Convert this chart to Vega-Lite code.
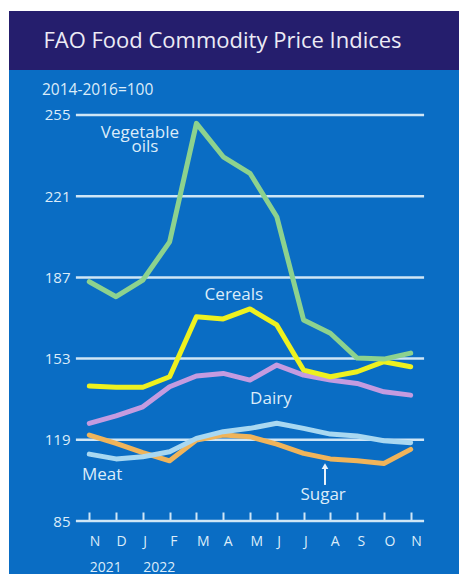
{
  "$schema": "https://vega.github.io/schema/vega-lite/v6.json",
  "background": "white",
  "padding": {"left": 9, "top": 11, "right": 0, "bottom": 0},
  "config": {
    "view": {"stroke": null},
    "font": "Open Sans"
  },
  "columns": 1,
  "spacing": 0,
  "concat": [
    {
      "width": 450,
      "height": 59,
      "view": {"fill": "#251e6d", "stroke": null},
      "data": {"values": [{"heading": "FAO Food Commodity Price Indices"}]},
      "mark": {"type": "text", "font": "Open Sans", "fontSize": 22, "color": "#ecebf5", "baseline": "alphabetic", "align": "center", "dx": -11.5, "dy": 7.5},
      "encoding": {"text": {"field": "heading"}}
    },
    {
      "width": 450,
      "height": 504,
      "view": {"fill": "#0a6dc4", "stroke": null},
      "encoding": {
        "y": {
          "field": "index", "type": "quantitative",
          "scale": {"domain": [62.81, 273.84], "nice": false, "zero": false},
          "axis": {
            "title": null, "values": [85,119,153,187,221,255],
            "grid": false, "domain": false, "ticks": false, "offset": -67,
            "labelPadding": 6, "labelFontSize": 15,
            "labelColor": "#dcecf9", "labelFont": "Open Sans"
          }
        }
      },
      "layer": [
        {
          "data": {"values": [
            {"index": 85}, {"index": 119}, {"index": 153}, {"index": 187}, {"index": 221}, {"index": 255}
          ]},
          "mark": {"type": "rule", "strokeWidth": 2.5, "color": "#cfe6f6"},
          "encoding": {
            "x": {
              "datum": -0.5, "type": "quantitative",
              "scale": {"domain": [-2.998, 13.804], "nice": false, "zero": false},
              "axis": {
                "title": null, "values": [0,1,2,3,4,5,6,7,8,9,10,11,12], "grid": false,
                "domain": false, "offset": -53,
                "ticks": true, "tickColor": "#cfe6f6", "tickSize": -9, "tickWidth": 2,
                "labelExpr": "[['N','2021'],'D',['J','2022'],'F','M','A','M','J','J','A','S','O','N'][datum.value]",
                "labelAlign": "left", "labelDx": -5, "labelFontSize": 14, "labelColor": "#dcecf9",
                "labelPadding": 22, "labelLineHeight": 26, "labelBaseline": "top",
                "labelFlush": false, "labelOverlap": false, "labelFont": "Open Sans"
              }
            },
            "x2": {"datum": 12.5}
          }
        },
        {
          "data": {"values": [
            {"series": "Sugar", "month": 0, "index": 121.0},
            {"series": "Sugar", "month": 1, "index": 117.5},
            {"series": "Sugar", "month": 2, "index": 113.6},
            {"series": "Sugar", "month": 3, "index": 110.2},
            {"series": "Sugar", "month": 4, "index": 118.9},
            {"series": "Sugar", "month": 5, "index": 121.0},
            {"series": "Sugar", "month": 6, "index": 120.3},
            {"series": "Sugar", "month": 7, "index": 117.2},
            {"series": "Sugar", "month": 8, "index": 113.3},
            {"series": "Sugar", "month": 9, "index": 111.0},
            {"series": "Sugar", "month": 10, "index": 110.2},
            {"series": "Sugar", "month": 11, "index": 109.1},
            {"series": "Sugar", "month": 12, "index": 115.0},
            {"series": "Meat", "month": 0, "index": 113.0},
            {"series": "Meat", "month": 1, "index": 111.0},
            {"series": "Meat", "month": 2, "index": 111.9},
            {"series": "Meat", "month": 3, "index": 114.0},
            {"series": "Meat", "month": 4, "index": 119.6},
            {"series": "Meat", "month": 5, "index": 122.4},
            {"series": "Meat", "month": 6, "index": 123.8},
            {"series": "Meat", "month": 7, "index": 125.9},
            {"series": "Meat", "month": 8, "index": 123.8},
            {"series": "Meat", "month": 9, "index": 121.4},
            {"series": "Meat", "month": 10, "index": 120.6},
            {"series": "Meat", "month": 11, "index": 118.6},
            {"series": "Meat", "month": 12, "index": 117.8},
            {"series": "Dairy", "month": 0, "index": 125.9},
            {"series": "Dairy", "month": 1, "index": 129.0},
            {"series": "Dairy", "month": 2, "index": 132.8},
            {"series": "Dairy", "month": 3, "index": 141.2},
            {"series": "Dairy", "month": 4, "index": 145.7},
            {"series": "Dairy", "month": 5, "index": 146.8},
            {"series": "Dairy", "month": 6, "index": 144.0},
            {"series": "Dairy", "month": 7, "index": 150.3},
            {"series": "Dairy", "month": 8, "index": 146.1},
            {"series": "Dairy", "month": 9, "index": 144.0},
            {"series": "Dairy", "month": 10, "index": 142.6},
            {"series": "Dairy", "month": 11, "index": 139.1},
            {"series": "Dairy", "month": 12, "index": 137.7},
            {"series": "Cereals", "month": 0, "index": 141.5},
            {"series": "Cereals", "month": 1, "index": 141.0},
            {"series": "Cereals", "month": 2, "index": 141.0},
            {"series": "Cereals", "month": 3, "index": 145.4},
            {"series": "Cereals", "month": 4, "index": 170.5},
            {"series": "Cereals", "month": 5, "index": 169.6},
            {"series": "Cereals", "month": 6, "index": 173.8},
            {"series": "Cereals", "month": 7, "index": 167.1},
            {"series": "Cereals", "month": 8, "index": 148.2},
            {"series": "Cereals", "month": 9, "index": 145.4},
            {"series": "Cereals", "month": 10, "index": 147.5},
            {"series": "Cereals", "month": 11, "index": 151.7},
            {"series": "Cereals", "month": 12, "index": 149.6},
            {"series": "Vegetable oils", "month": 0, "index": 185.2},
            {"series": "Vegetable oils", "month": 1, "index": 178.9},
            {"series": "Vegetable oils", "month": 2, "index": 185.9},
            {"series": "Vegetable oils", "month": 3, "index": 201.9},
            {"series": "Vegetable oils", "month": 4, "index": 251.5},
            {"series": "Vegetable oils", "month": 5, "index": 237.5},
            {"series": "Vegetable oils", "month": 6, "index": 230.6},
            {"series": "Vegetable oils", "month": 7, "index": 212.4},
            {"series": "Vegetable oils", "month": 8, "index": 169.2},
            {"series": "Vegetable oils", "month": 9, "index": 163.6},
            {"series": "Vegetable oils", "month": 10, "index": 153.2},
            {"series": "Vegetable oils", "month": 11, "index": 152.8},
            {"series": "Vegetable oils", "month": 12, "index": 155.3}
          ]},
          "mark": {"type": "line", "strokeWidth": 5, "strokeJoin": "round", "strokeCap": "round"},
          "encoding": {
            "x": {
              "field": "month", "type": "quantitative",
              "scale": {"domain": [-2.998, 13.804], "nice": false, "zero": false},
              "axis": {
                "title": null, "values": [0,1,2,3,4,5,6,7,8,9,10,11,12], "grid": false,
                "domain": false, "offset": -53,
                "ticks": true, "tickColor": "#cfe6f6", "tickSize": -9, "tickWidth": 2,
                "labelExpr": "[['N','2021'],'D',['J','2022'],'F','M','A','M','J','J','A','S','O','N'][datum.value]",
                "labelAlign": "left", "labelDx": -5, "labelFontSize": 14, "labelColor": "#dcecf9",
                "labelPadding": 22, "labelLineHeight": 26, "labelBaseline": "top",
                "labelFlush": false, "labelOverlap": false, "labelFont": "Open Sans"
              }
            },
            "color": {
              "field": "series", "type": "nominal",
              "scale": {
                "domain": ["Vegetable oils", "Cereals", "Dairy", "Meat", "Sugar"],
                "range": ["#8dd28e", "#eef11f", "#c49be0", "#a9d8f1", "#f0b45a"]
              },
              "legend": null
            }
          }
        },
        {
          "data": {"values": [
            {"label": "Vegetable", "month": 1.89, "index": 245.4},
            {"label": "oils", "month": 2.08, "index": 239.5},
            {"label": "Cereals", "month": 5.4, "index": 177.5},
            {"label": "Dairy", "month": 6.78, "index": 134.0},
            {"label": "Meat", "month": 0.48, "index": 102.2},
            {"label": "Sugar", "month": 8.73, "index": 93.8}
          ]},
          "mark": {"type": "text", "font": "Open Sans", "fontSize": 17, "color": "#dcecf9", "baseline": "alphabetic", "align": "center"},
          "encoding": {
            "x": {
              "field": "month", "type": "quantitative",
              "scale": {"domain": [-2.998, 13.804], "nice": false, "zero": false},
              "axis": {
                "title": null, "values": [0,1,2,3,4,5,6,7,8,9,10,11,12], "grid": false,
                "domain": false, "offset": -53,
                "ticks": true, "tickColor": "#cfe6f6", "tickSize": -9, "tickWidth": 2,
                "labelExpr": "[['N','2021'],'D',['J','2022'],'F','M','A','M','J','J','A','S','O','N'][datum.value]",
                "labelAlign": "left", "labelDx": -5, "labelFontSize": 14, "labelColor": "#dcecf9",
                "labelPadding": 22, "labelLineHeight": 26, "labelBaseline": "top",
                "labelFlush": false, "labelOverlap": false, "labelFont": "Open Sans"
              }
            },
            "text": {"field": "label"}
          }
        },
        {
          "data": {"values": [
            {"label": "2014-2016=100", "month": -1.766, "index": 263.4}
          ]},
          "mark": {"type": "text", "font": "Open Sans", "fontSize": 15.5, "color": "#dcecf9", "baseline": "alphabetic", "align": "left"},
          "encoding": {
            "x": {
              "field": "month", "type": "quantitative",
              "scale": {"domain": [-2.998, 13.804], "nice": false, "zero": false},
              "axis": {
                "title": null, "values": [0,1,2,3,4,5,6,7,8,9,10,11,12], "grid": false,
                "domain": false, "offset": -53,
                "ticks": true, "tickColor": "#cfe6f6", "tickSize": -9, "tickWidth": 2,
                "labelExpr": "[['N','2021'],'D',['J','2022'],'F','M','A','M','J','J','A','S','O','N'][datum.value]",
                "labelAlign": "left", "labelDx": -5, "labelFontSize": 14, "labelColor": "#dcecf9",
                "labelPadding": 22, "labelLineHeight": 26, "labelBaseline": "top",
                "labelFlush": false, "labelOverlap": false, "labelFont": "Open Sans"
              }
            },
            "text": {"field": "label"}
          }
        },
        {
          "data": {"values": [{"month": 8.8, "index": 100.1, "index_end": 107.0}]},
          "mark": {"type": "rule", "strokeWidth": 2, "color": "#e8f2fb"},
          "encoding": {
            "x": {
              "field": "month", "type": "quantitative",
              "scale": {"domain": [-2.998, 13.804], "nice": false, "zero": false},
              "axis": {
                "title": null, "values": [0,1,2,3,4,5,6,7,8,9,10,11,12], "grid": false,
                "domain": false, "offset": -53,
                "ticks": true, "tickColor": "#cfe6f6", "tickSize": -9, "tickWidth": 2,
                "labelExpr": "[['N','2021'],'D',['J','2022'],'F','M','A','M','J','J','A','S','O','N'][datum.value]",
                "labelAlign": "left", "labelDx": -5, "labelFontSize": 14, "labelColor": "#dcecf9",
                "labelPadding": 22, "labelLineHeight": 26, "labelBaseline": "top",
                "labelFlush": false, "labelOverlap": false, "labelFont": "Open Sans"
              }
            },
            "y2": {"field": "index_end"}
          }
        },
        {
          "data": {"values": [{"month": 8.8, "index": 108.0}]},
          "mark": {"type": "point", "shape": "triangle-up", "size": 45, "filled": true, "opacity": 1, "color": "#e8f2fb"},
          "encoding": {
            "x": {
              "field": "month", "type": "quantitative",
              "scale": {"domain": [-2.998, 13.804], "nice": false, "zero": false},
              "axis": {
                "title": null, "values": [0,1,2,3,4,5,6,7,8,9,10,11,12], "grid": false,
                "domain": false, "offset": -53,
                "ticks": true, "tickColor": "#cfe6f6", "tickSize": -9, "tickWidth": 2,
                "labelExpr": "[['N','2021'],'D',['J','2022'],'F','M','A','M','J','J','A','S','O','N'][datum.value]",
                "labelAlign": "left", "labelDx": -5, "labelFontSize": 14, "labelColor": "#dcecf9",
                "labelPadding": 22, "labelLineHeight": 26, "labelBaseline": "top",
                "labelFlush": false, "labelOverlap": false, "labelFont": "Open Sans"
              }
            }
          }
        }
      ]
    }
  ]
}
